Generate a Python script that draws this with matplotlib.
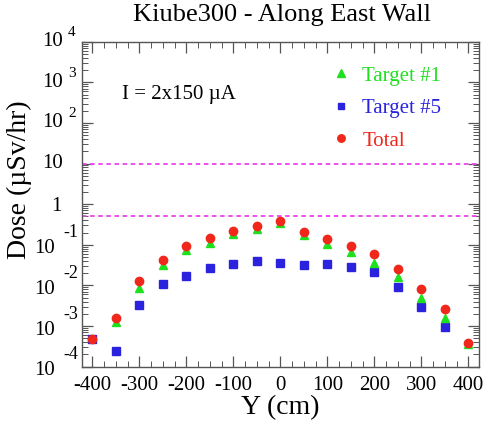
import numpy as np
import matplotlib
matplotlib.use('Agg')
import matplotlib.pyplot as plt
from matplotlib.ticker import MultipleLocator, LogLocator, NullFormatter

plt.rcParams['font.family'] = ['Liberation Serif', 'DejaVu Serif']

# Dados (log10 da dose em uSv/hr)
pos        = [-400, -350, -300, -250, -200, -150, -100, -50, 0, 50, 100, 150, 200, 250, 300, 350, 400]
log_total  = [-3.33, -2.79, -1.89, -1.37, -1.04, -0.84, -0.65, -0.53, -0.41,
              -0.68, -0.85, -1.02, -1.23, -1.60, -2.09, -2.59, -3.42]
log_t1     = [np.nan, -2.89, -2.06, -1.50, -1.13, -0.96, -0.73, -0.61, -0.47,
              -0.76, -0.98, -1.18, -1.45, -1.80, -2.30, -2.81, -3.44]
log_t5     = [-3.33, -3.61, -2.48, -1.97, -1.76, -1.56, -1.47, -1.39, -1.45,
              -1.50, -1.47, -1.55, -1.67, -2.05, -2.52, -3.02, np.nan]
limites    = [10, 0.5]
xticks     = [-400, -300, -200, -100, 0, 100, 200, 300, 400]
decadas    = [4, 3, 2, 1, 0, -1, -2, -3, -4]

verde, azul, vermelho, magenta = '#1fe01f', '#2a22dd', '#f0281c', '#ec44ec'

fig = plt.figure(figsize=(4.85, 4.21), dpi=100)
ax = fig.add_axes([0.169, 0.129, 0.819, 0.772])

ax.set_yscale('log')
ax.set_xlim(-422, 423)
ax.set_ylim(1e-4, 1e4)

for v in limites:
    ax.axhline(v, color=magenta, lw=1.3, ls=(0, (2.5, 2)))

ax.plot(pos, 10 ** np.array(log_t5), 's', color=azul, ms=5.2, mec=azul, label='Target #5', zorder=3)
ax.plot(pos, 10 ** np.array(log_t1), '^', color=verde, ms=6, mec=verde, label='Target #1', zorder=4)
ax.plot(pos, 10 ** np.array(log_total), 'o', color=vermelho, ms=6, mec=vermelho, label='Total', zorder=5)

# eixos / ticks
ax.xaxis.set_minor_locator(MultipleLocator(25))
ax.set_xticks(xticks)
ax.set_xticklabels([str(t) for t in xticks], fontsize=15)
ax.yaxis.set_major_locator(LogLocator(base=10, numticks=20))
ax.yaxis.set_minor_locator(LogLocator(base=10, subs=np.arange(2, 10), numticks=20))
ax.yaxis.set_major_formatter(NullFormatter())
ax.yaxis.set_minor_formatter(NullFormatter())
ax.tick_params(which='both', direction='in', top=True, right=True, color='#555555')
ax.tick_params(which='major', length=8, width=0.9)
ax.tick_params(which='minor', length=4, width=0.7)
ax.tick_params(axis='x', pad=7)
for s in ax.spines.values():
    s.set_color('#555555')
    s.set_linewidth(1.0)

# rótulos do eixo y no estilo 10^n
for k in decadas:
    y = 10.0 ** k
    if k >= 2:
        ax.annotate('10', (0, y), xycoords=('axes fraction', 'data'), xytext=(-19, 0),
                    textcoords='offset pixels', ha='right', va='center', fontsize=15)
        ax.annotate(str(k), (0, y), xycoords=('axes fraction', 'data'), xytext=(-14, 9),
                    textcoords='offset pixels', ha='left', va='center', fontsize=11)
    elif k == 1:
        ax.annotate('10', (0, y), xycoords=('axes fraction', 'data'), xytext=(-19, 0),
                    textcoords='offset pixels', ha='right', va='center', fontsize=15)
    elif k == 0:
        ax.annotate('1', (0, y), xycoords=('axes fraction', 'data'), xytext=(-20, -2),
                    textcoords='offset pixels', ha='right', va='center', fontsize=15)
    else:
        ax.annotate('10', (0, y), xycoords=('axes fraction', 'data'), xytext=(-27, -4),
                    textcoords='offset pixels', ha='right', va='center', fontsize=15)
        ax.annotate(str(k), (0, y), xycoords=('axes fraction', 'data'), xytext=(-19, 12),
                    textcoords='offset pixels', ha='left', va='center', fontsize=13)

ax.set_xlabel('Y (cm)', fontsize=20, labelpad=0)
ax.set_ylabel('Dose (\u00b5Sv/hr)', fontsize=20)
ax.yaxis.set_label_coords(-0.125, 0.574)
fig.text(282 / 485, 1 - 15 / 421, 'Kiube300 - Along East Wall', fontsize=19,
         ha='center', va='center')

ax.text(0.10, 0.836, 'I = 2x150 \u00b5A', transform=ax.transAxes, fontsize=15,
        ha='left', va='center')

h, l = ax.get_legend_handles_labels()
ordem = [1, 0, 2]
leg = ax.legend([h[i] for i in ordem], [l[i] for i in ordem], loc='upper left',
                bbox_to_anchor=(0.627, 0.925), frameon=False, fontsize=15,
                handlelength=1.0, handletextpad=0.5, labelspacing=0.62,
                borderpad=0, borderaxespad=0, markerscale=0.9)
for txt, c in zip(leg.get_texts(), [verde, azul, vermelho]):
    txt.set_color(c)

plt.savefig('out.png', dpi=100)
plt.close()
